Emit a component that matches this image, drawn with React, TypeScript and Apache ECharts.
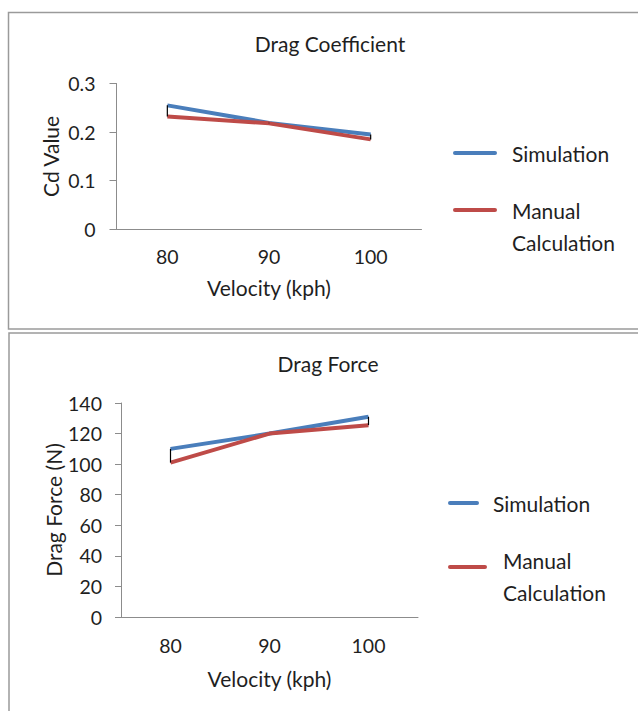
import React, { useEffect, useRef } from "react";
import * as echarts from "echarts";

const velocities = ["80", "90", "100"];
const seriesNames = ["Simulation", "Manual Calculation"];
const cdSimulation = [0.255, 0.219, 0.195];
const cdManual = [0.232, 0.218, 0.185];
const forceSimulation = [110, 120, 131];
const forceManual = [101, 120, 125.5];
const cdAxis = [0, 0.3, 0.1];
const forceAxis = [0, 140, 20];

const FONT = "Lato, 'Open Sans', sans-serif";
const TXT = "#1f1f1f";
const AXIS = "#8c8c8c";
const BLUE = "#4a7ebb";
const RED = "#be4b48";
const FS = 21;
const TICK_FS = 19.5;

function errorBars(xi: number, yi: number, sim: number[], man: number[]) {
  return {
    type: "custom",
    xAxisIndex: xi,
    yAxisIndex: yi,
    z: 5,
    silent: true,
    data: velocities.map((_, i) => [i, sim[i], man[i]]),
    renderItem: (params: any, api: any) => {
      const a = api.coord([api.value(0), api.value(1)]);
      const b = api.coord([api.value(0), api.value(2)]);
      return {
        type: "line",
        shape: { x1: a[0], y1: a[1], x2: b[0], y2: b[1] },
        style: { stroke: "#000", lineWidth: 1.2 },
      };
    },
  };
}

function legendItems(
  lines: { x1: number; x2: number; y: number; color: string }[],
  texts: { x: number; y: number; t: string }[]
) {
  const els: any[] = [];
  lines.forEach((l) =>
    els.push({
      type: "line",
      shape: { x1: l.x1, y1: l.y, x2: l.x2, y2: l.y },
      style: { stroke: l.color, lineWidth: 4, lineCap: "round" },
    })
  );
  texts.forEach((t) =>
    els.push({
      type: "text",
      style: {
        text: t.t,
        x: t.x,
        y: t.y,
        textAlign: "left",
        textVerticalAlign: "middle",
        fill: TXT,
        font: `${FS}px ${FONT}`,
      },
    })
  );
  return els;
}

export default function App() {
  const ref = useRef<HTMLDivElement>(null);
  useEffect(() => {
    if (!ref.current) return;
    const chart = echarts.init(ref.current, undefined, { renderer: "svg" });
    const axisLabel = (margin: number) => ({
      color: TXT,
      fontSize: TICK_FS,
      fontFamily: FONT,
      margin,
    });
    const nameStyle = { color: TXT, fontSize: FS, fontFamily: FONT };
    const [simName, manName] = seriesNames;
    const manParts = manName.split(" ");
    chart.setOption({
      animation: false,
      grid: [
        { left: 116.5, top: 83.5, width: 305, height: 145.8 },
        { left: 121, top: 403, width: 297, height: 214 },
      ],
      xAxis: [0, 1].map((g) => ({
        type: "category",
        gridIndex: g,
        data: velocities,
        boundaryGap: true,
        name: "Velocity (kph)",
        nameLocation: "middle",
        nameGap: g === 0 ? 48 : 51,
        nameTextStyle: nameStyle,
        axisLine: { lineStyle: { color: AXIS, width: 1 } },
        axisTick: { show: false },
        axisLabel: axisLabel(g === 0 ? 17 : 18),
        splitLine: { show: false },
      })),
      yAxis: [
        {
          type: "value",
          gridIndex: 0,
          min: cdAxis[0],
          max: cdAxis[1],
          interval: cdAxis[2],
          name: "Cd Value",
          nameLocation: "middle",
          nameGap: 56,
          nameTextStyle: nameStyle,
          axisLine: { show: true, lineStyle: { color: AXIS, width: 1 } },
          axisTick: { show: true, length: 7, lineStyle: { color: AXIS } },
          axisLabel: axisLabel(21),
          splitLine: { show: false },
        },
        {
          type: "value",
          gridIndex: 1,
          min: forceAxis[0],
          max: forceAxis[1],
          interval: forceAxis[2],
          name: "Drag Force (N)",
          nameLocation: "middle",
          nameGap: 57,
          nameTextStyle: nameStyle,
          axisLine: { show: true, lineStyle: { color: AXIS, width: 1 } },
          axisTick: { show: true, length: 6, lineStyle: { color: AXIS } },
          axisLabel: axisLabel(19),
          splitLine: { show: false },
        },
      ],
      series: [
        {
          name: simName,
          type: "line",
          xAxisIndex: 0,
          yAxisIndex: 0,
          data: cdSimulation,
          showSymbol: false,
          symbol: "none",
          lineStyle: { color: BLUE, width: 4 },
          itemStyle: { color: BLUE },
          z: 3,
        },
        {
          name: manName,
          type: "line",
          xAxisIndex: 0,
          yAxisIndex: 0,
          data: cdManual,
          showSymbol: false,
          symbol: "none",
          lineStyle: { color: RED, width: 4 },
          itemStyle: { color: RED },
          z: 4,
        },
        errorBars(0, 0, cdSimulation, cdManual),
        {
          name: simName,
          type: "line",
          xAxisIndex: 1,
          yAxisIndex: 1,
          data: forceSimulation,
          showSymbol: false,
          symbol: "none",
          lineStyle: { color: BLUE, width: 4 },
          itemStyle: { color: BLUE },
          z: 3,
        },
        {
          name: manName,
          type: "line",
          xAxisIndex: 1,
          yAxisIndex: 1,
          data: forceManual,
          showSymbol: false,
          symbol: "none",
          lineStyle: { color: RED, width: 4 },
          itemStyle: { color: RED },
          z: 4,
        },
        errorBars(1, 1, forceSimulation, forceManual),
      ],
      graphic: [
        {
          type: "rect",
          shape: { x: 8.5, y: 12.5, width: 640, height: 316.5 },
          style: { fill: "none", stroke: "#9a9a9a", lineWidth: 1.5 },
          z: -1,
        },
        {
          type: "rect",
          shape: { x: 9, y: 333, width: 640, height: 400 },
          style: { fill: "none", stroke: "#9a9a9a", lineWidth: 1.5 },
          z: -1,
        },
        {
          type: "text",
          style: {
            text: "Drag Coefficient",
            x: 330,
            y: 43,
            textAlign: "center",
            textVerticalAlign: "middle",
            fill: TXT,
            font: `${FS}px ${FONT}`,
          },
        },
        {
          type: "text",
          style: {
            text: "Drag Force",
            x: 328,
            y: 363,
            textAlign: "center",
            textVerticalAlign: "middle",
            fill: TXT,
            font: `${FS}px ${FONT}`,
          },
        },
        ...legendItems(
          [
            { x1: 455, x2: 495, y: 153, color: BLUE },
            { x1: 455, x2: 495, y: 210, color: RED },
          ],
          [
            { x: 512, y: 153, t: simName },
            { x: 512, y: 210, t: manParts[0] },
            { x: 512, y: 242, t: manParts.slice(1).join(" ") },
          ]
        ),
        ...legendItems(
          [
            { x1: 450, x2: 477, y: 503, color: BLUE },
            { x1: 450, x2: 485, y: 567, color: RED },
          ],
          [
            { x: 493, y: 503, t: simName },
            { x: 503, y: 560, t: manParts[0] },
            { x: 503, y: 592, t: manParts.slice(1).join(" ") },
          ]
        ),
      ],
    });
    return () => chart.dispose();
  }, []);
  return (
    <div
      ref={ref}
      style={{ position: "absolute", left: 0, top: 0, width: 638, height: 711, background: "#fff" }}
    />
  );
}
